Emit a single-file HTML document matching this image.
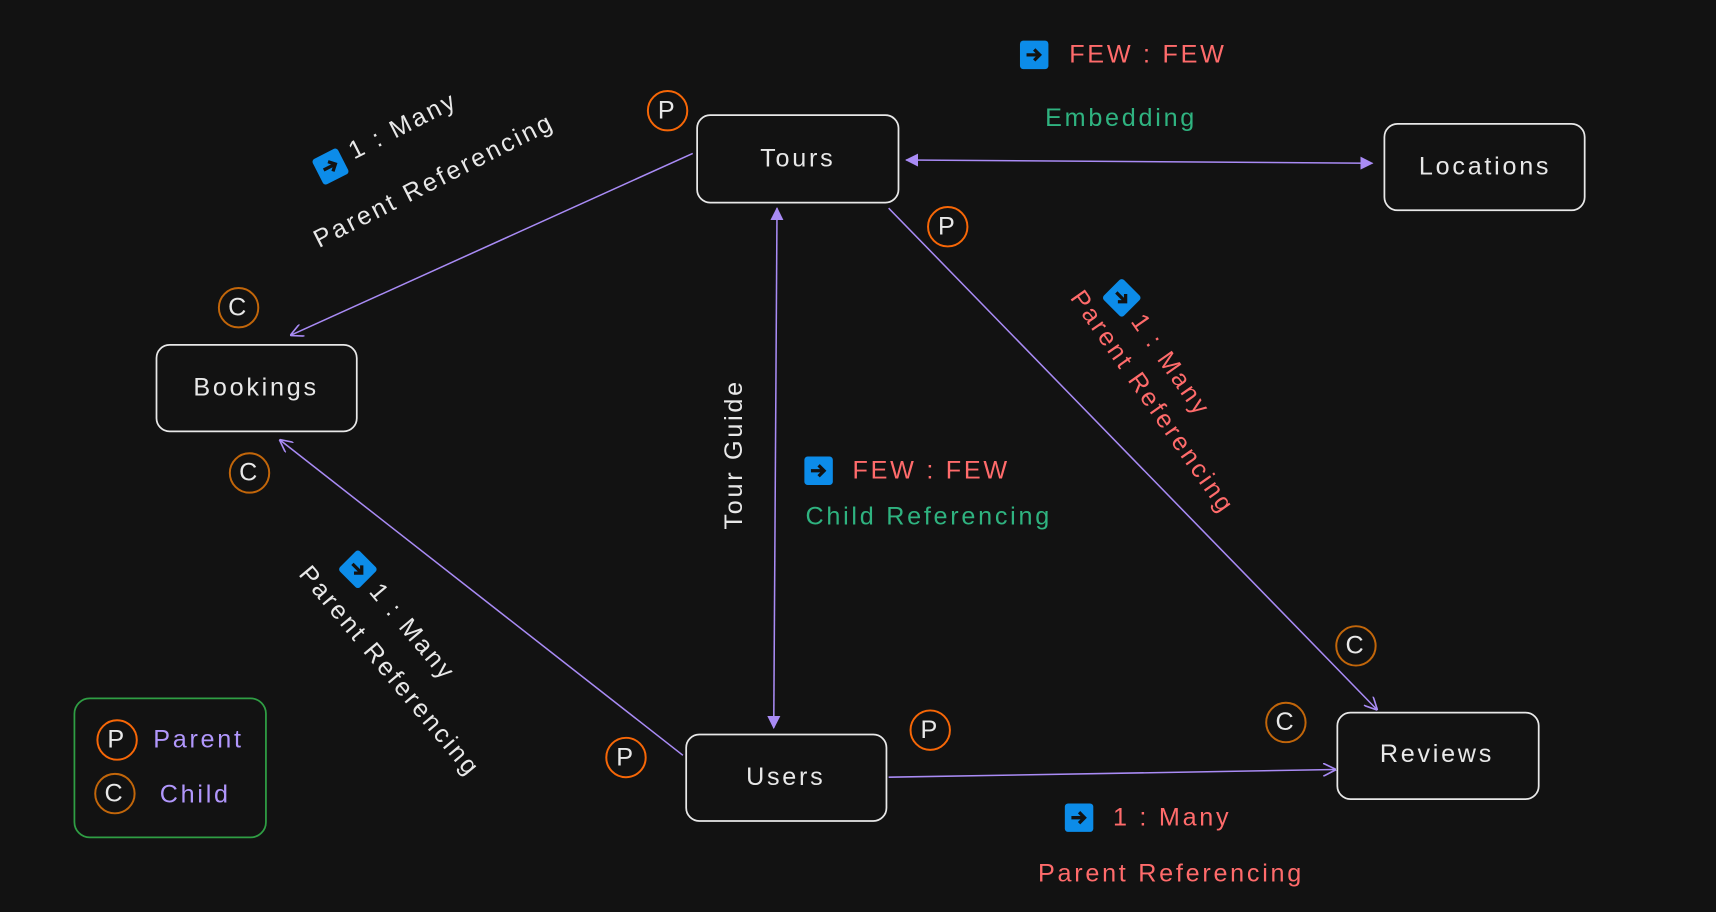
<!DOCTYPE html>
<html><head><meta charset="utf-8"><style>
html,body{margin:0;padding:0;background:#121212;}
svg{display:block}
text{font-family:"Liberation Sans",sans-serif;font-size:23px;letter-spacing:2.5px;}
</style></head><body>
<svg width="1716" height="912" viewBox="0 0 1568 833" xmlns="http://www.w3.org/2000/svg">
<defs>
<marker id="a" viewBox="0 0 12 12" refX="11" refY="6" markerWidth="12" markerHeight="12" orient="auto-start-reverse" markerUnits="userSpaceOnUse"><path d="M0,0 L12,6 L0,12" fill="none" stroke="#a98bf5" stroke-width="1.5"/></marker>
<marker id="f" viewBox="0 0 12 12" refX="11" refY="6" markerWidth="12" markerHeight="12" orient="auto-start-reverse" markerUnits="userSpaceOnUse"><path d="M0,0 L12,6 L0,12 Z" fill="#a98bf5"/></marker>
<g id="ic"><rect x="-13" y="-13" width="26" height="26" rx="3" fill="#0c8ce9"/><path d="M-7,0 H5 M0,-5 L5,0 L0,5" stroke="#121212" stroke-width="3" fill="none"/></g>
</defs>
<rect width="1568" height="833" fill="#121212"/>
<g fill="none" stroke="#e8e8e8" stroke-width="1.6">
<rect x="637" y="105" width="184" height="80" rx="12"/>
<rect x="1265" y="113" width="183" height="79" rx="12"/>
<rect x="143" y="315" width="183" height="79" rx="12"/>
<rect x="627" y="671" width="183" height="79" rx="12"/>
<rect x="1222" y="651" width="184" height="79" rx="12"/>
</g>
<rect x="68" y="638" width="175" height="127" rx="14" fill="none" stroke="#2f9e44" stroke-width="1.6"/>
<g fill="#e8e8e8" text-anchor="middle" dominant-baseline="middle">
<text x="729" y="146">Tours</text><text x="1357" y="153">Locations</text><text x="234" y="355">Bookings</text><text x="718" y="711">Users</text><text x="1313" y="690">Reviews</text>
</g>
<g stroke="#a98bf5" stroke-width="1.4" fill="none">
<line x1="633" y1="140" x2="266" y2="306" marker-end="url(#a)"/>
<line x1="624" y1="690" x2="256" y2="402" marker-end="url(#a)"/>
<line x1="710" y1="190" x2="707" y2="665" marker-start="url(#f)" marker-end="url(#f)"/>
<line x1="828" y1="146" x2="1254" y2="149" marker-start="url(#f)" marker-end="url(#f)"/>
<line x1="812" y1="190" x2="1258" y2="648" marker-end="url(#a)"/>
<line x1="812" y1="710" x2="1220" y2="703" marker-end="url(#a)"/>
</g>
<g fill="none" stroke-width="1.8">
<circle cx="610" cy="101" r="18" stroke="#f76707"/><circle cx="866" cy="207" r="18" stroke="#f76707"/>
<circle cx="850" cy="667" r="18" stroke="#f76707"/><circle cx="572" cy="692" r="18" stroke="#f76707"/>
<circle cx="107" cy="676" r="18" stroke="#f76707"/>
<circle cx="218" cy="281" r="18" stroke="#c2660a"/><circle cx="228" cy="432" r="18" stroke="#c2660a"/>
<circle cx="1239" cy="590" r="18" stroke="#c2660a"/><circle cx="1175" cy="660" r="18" stroke="#c2660a"/>
<circle cx="105" cy="725" r="18" stroke="#c2660a"/>
</g>
<g fill="#e8e8e8" text-anchor="middle" dominant-baseline="middle" style="font-size:20px;letter-spacing:0">
<text x="610" y="102">P</text><text x="866" y="208">P</text><text x="850" y="668">P</text><text x="572" y="693">P</text><text x="107" y="677">P</text>
<text x="218" y="282">C</text><text x="228" y="433">C</text><text x="1239" y="591">C</text><text x="1175" y="661">C</text><text x="105" y="726">C</text>
</g>
<g fill="#b197fc" dominant-baseline="middle"><text x="140" y="677">Parent</text><text x="146" y="727">Child</text></g>
<use href="#ic" x="945" y="50"/>
<text x="977" y="51" fill="#ff6b6b" dominant-baseline="middle">FEW : FEW</text>
<text x="955" y="109" fill="#2fb380" dominant-baseline="middle">Embedding</text>
<use href="#ic" x="748" y="430"/>
<text x="779" y="431" fill="#ff6b6b" dominant-baseline="middle">FEW : FEW</text>
<text x="736" y="473" fill="#2fb380" dominant-baseline="middle">Child Referencing</text>
<use href="#ic" x="986" y="747"/>
<text x="1017" y="748" fill="#ff6b6b" dominant-baseline="middle">1 : Many</text>
<text x="1070" y="799" fill="#ff6b6b" text-anchor="middle" dominant-baseline="middle">Parent Referencing</text>
<text transform="translate(672,415) rotate(-90)" fill="#e8e8e8" text-anchor="middle" dominant-baseline="middle">Tour Guide</text>
<g transform="translate(302,152) rotate(-27)"><use href="#ic"/><text x="22" y="-2" fill="#e8e8e8" dominant-baseline="middle">1 : Many</text></g>
<text transform="translate(397,166) rotate(-27)" fill="#e8e8e8" text-anchor="middle" dominant-baseline="middle">Parent Referencing</text>
<g transform="translate(1025,272) rotate(55)"><use href="#ic" transform="rotate(-10)"/><text x="22" y="0" fill="#ff6b6b" dominant-baseline="middle">1 : Many</text></g>
<text transform="translate(1052,368) rotate(55)" fill="#ff6b6b" text-anchor="middle" dominant-baseline="middle">Parent Referencing</text>
<g transform="translate(327,520) rotate(50)"><use href="#ic" transform="rotate(-5)"/><text x="22" y="0" fill="#e8e8e8" dominant-baseline="middle">1 : Many</text></g>
<text transform="translate(355,614) rotate(50)" fill="#e8e8e8" text-anchor="middle" dominant-baseline="middle">Parent Referencing</text>
</svg>
</body></html>
